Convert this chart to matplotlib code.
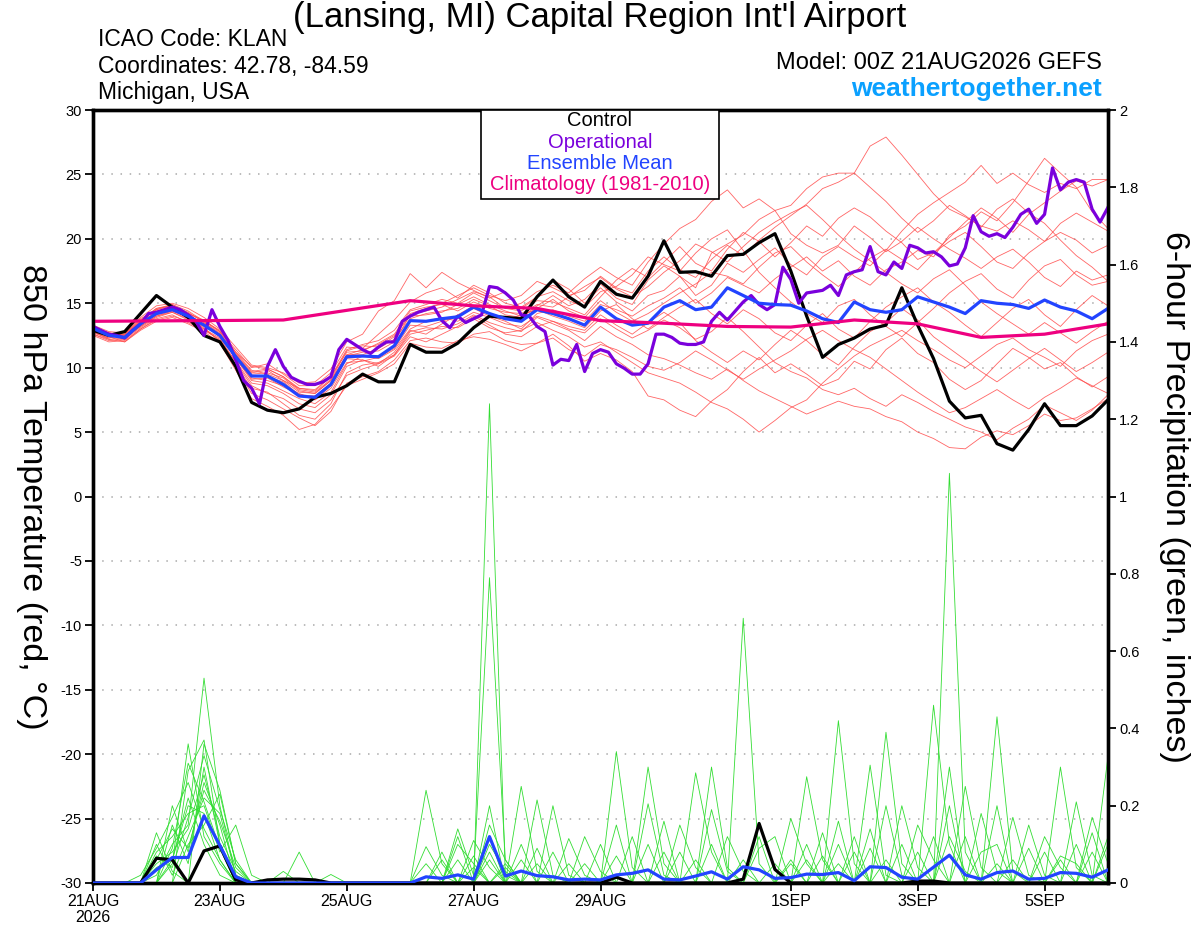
import matplotlib
matplotlib.use("Agg")
import matplotlib.pyplot as plt
from matplotlib.patches import Rectangle
import numpy as np

plt.rcParams['font.family'] = ['Liberation Sans', 'DejaVu Sans']

# GEFS output is 6-hourly, operational run 3-hourly (hours since 00Z 21AUG2026)
hours6 = np.arange(0, 385, 6)
hours3 = np.arange(0, 385, 3)
clim_hours = np.arange(0, 385, 24)

tick_hours = [0, 48, 96, 144, 192, 264, 312, 360]
tick_labels = ['21AUG\n2026', '23AUG', '25AUG', '27AUG', '29AUG', '1SEP', '3SEP', '5SEP']

# 850 hPa temperature (C)
control_t = [12.9, 12.5, 12.8, 14.2, 15.6, 14.7, 13.9, 12.5, 12.0, 10.1,
             7.3, 6.7, 6.5, 6.8, 7.7, 8.0, 8.6, 9.5, 8.9, 8.9,
             11.8, 11.2, 11.2, 11.9, 13.1, 14.0, 13.9, 13.8, 15.5, 16.8,
             15.5, 14.7, 16.7, 15.7, 15.4, 17.1, 19.85, 17.4, 17.45, 17.1,
             18.7, 18.8, 19.7, 20.4, 17.5, 14.0, 10.8, 11.8, 12.3, 13.0,
             13.3, 16.2, 13.3, 10.7, 7.4, 6.1, 6.3, 4.1, 3.6, 5.2,
             7.2, 5.5, 5.5, 6.25, 7.5]

mean_t = [13.05, 12.5, 12.35, 13.4, 14.2, 14.5, 14.0, 13.3, 12.5, 10.85,
          9.35, 9.35, 8.7, 7.8, 7.7, 8.7, 10.85, 10.9, 10.85, 11.7,
          13.65, 13.6, 13.8, 13.95, 14.7, 14.2, 13.8, 13.6, 14.5, 14.2,
          13.8, 13.3, 14.7, 13.8, 13.3, 13.45, 14.7, 15.2, 14.5, 14.7,
          16.2, 15.6, 15.0, 14.9, 14.85, 14.4, 13.8, 13.5, 15.1, 14.5,
          14.3, 14.5, 15.5, 15.1, 14.7, 14.2, 15.2, 15.0, 14.9, 14.6,
          15.25, 14.7, 14.4, 13.8, 14.6]

oper_t = [13.2, 12.9, 12.6, 12.5, 12.3, 12.9, 13.4, 14.2, 14.3, 14.5,
          14.7, 14.5, 14.1, 13.6, 12.5, 14.5, 13.2, 12.15, 10.6, 9.0,
          8.4, 7.2, 10.1, 11.4, 10.1, 9.25, 8.95, 8.7, 8.7, 8.9,
          9.3, 11.4, 12.2, 11.8, 11.4, 11.1, 11.6, 12.0, 12.0, 13.6,
          14.0, 14.3, 14.5, 14.7, 13.65, 13.1, 14.0, 13.5, 13.8, 14.1,
          16.3, 16.2, 15.8, 15.25, 14.1, 14.0, 13.2, 12.8, 10.2, 10.65,
          10.55, 11.8, 9.7, 11.1, 11.4, 11.2, 10.3, 9.95, 9.5, 9.5,
          10.3, 12.6, 12.6, 12.35, 11.9, 11.8, 11.8, 12.0, 13.6, 14.3,
          13.7, 14.4, 15.1, 15.6, 14.9, 14.5, 14.9, 17.8, 16.85, 15.0,
          15.8, 15.9, 16.0, 16.4, 15.6, 17.2, 17.45, 17.6, 19.4, 17.45,
          17.2, 18.2, 17.7, 19.5, 19.3, 18.9, 19.0, 18.6, 17.9, 18.05,
          19.3, 21.8, 20.55, 20.2, 20.4, 20.1, 20.9, 21.9, 22.3, 21.2,
          21.9, 25.5, 23.8, 24.4, 24.6, 24.4, 22.3, 21.3, 22.45]

clim_t = [13.6, 13.63, 13.66, 13.7, 14.45, 15.2, 14.8, 14.6, 13.65, 13.45,
          13.2, 13.15, 13.7, 13.4, 12.35, 12.6, 13.4]

temp_members = [
    [12.8, 12.3, 12.6, 13.6, 14.6, 14.8, 14.2, 13.6, 12.9, 11.2, 9.8, 9.5, 9.0, 8.4, 8.2, 9.3, 11.4, 11.8, 12.1, 12.9,
     14.5, 14.9, 15.3, 15.0, 15.8, 15.2, 14.6, 15.0, 15.9, 16.4, 15.8, 16.9, 17.8, 17.0, 16.4, 18.2, 19.6, 20.8, 21.5, 22.9,
     23.8, 22.4, 23.1, 22.2, 22.6, 23.9, 24.8, 25.1, 25.1, 27.2, 27.9, 26.5, 25.0, 23.5, 22.3, 21.7, 21.0, 20.6, 21.4, 20.7,
     19.8, 20.5, 19.9, 18.9, 19.5],
    [12.6, 12.1, 12.2, 13.1, 13.9, 14.3, 13.8, 13.1, 12.0, 10.2, 8.4, 8.1, 7.2, 6.3, 6.0, 7.2, 9.6, 10.2, 10.4, 11.0,
     12.8, 13.1, 13.0, 13.4, 14.1, 13.5, 13.1, 12.8, 13.9, 13.4, 12.9, 12.1, 13.2, 12.4, 11.8, 11.0, 10.7, 10.2, 9.6, 9.1,
     9.9, 9.0, 8.2, 7.6, 7.0, 6.4, 6.9, 7.4, 7.0, 6.8, 6.2, 5.8, 5.0, 4.5, 3.8, 3.7, 4.6, 5.1, 4.8, 5.5,
     6.4, 5.9, 6.1, 6.8, 7.6],
    [13.3, 12.8, 12.7, 13.9, 14.8, 15.0, 14.6, 13.9, 13.0, 11.6, 10.2, 10.0, 9.6, 8.8, 8.9, 9.9, 12.0, 12.6, 14.4, 15.2,
     17.3, 16.2, 17.4, 16.6, 16.0, 15.4, 15.9, 14.6, 15.4, 16.8, 16.1, 15.0, 16.2, 15.1, 14.4, 15.6, 16.0, 17.1, 16.2, 18.9,
     19.6, 20.3, 21.5, 22.2, 20.4, 19.5, 18.9, 19.5, 21.0, 20.1, 19.0, 19.8, 20.9, 20.0, 19.2, 18.5, 17.7, 18.6, 19.2, 18.2,
     17.0, 16.3, 17.5, 16.8, 17.2],
    [12.9, 12.4, 12.0, 13.0, 13.8, 14.1, 13.5, 12.9, 12.2, 10.0, 8.0, 7.5, 6.8, 6.1, 5.5, 6.6, 8.8, 9.3, 9.7, 10.6,
     12.1, 12.3, 12.0, 11.9, 12.6, 12.8, 12.1, 11.8, 11.9, 12.6, 11.7, 10.5, 11.1, 10.6, 9.7, 7.8, 7.5, 6.7, 6.2, 7.4,
     8.3, 9.7, 10.8, 9.6, 10.3, 9.5, 8.6, 9.1, 10.5, 9.9, 11.4, 12.3, 11.1, 10.4, 9.1, 8.3, 9.0, 10.3, 11.5, 10.8,
     9.9, 10.4, 9.3, 8.5, 9.3],
    [13.0, 12.6, 12.4, 13.5, 14.4, 14.7, 14.0, 13.5, 12.6, 11.0, 9.6, 9.8, 9.0, 8.1, 8.0, 9.0, 11.0, 11.0, 11.5, 12.2,
     13.8, 14.2, 14.4, 14.6, 15.3, 14.8, 14.1, 13.9, 14.8, 15.6, 14.8, 15.3, 16.5, 15.4, 14.9, 16.8, 17.9, 17.1, 15.6, 16.4,
     18.1, 17.4, 18.4, 19.3, 18.0, 17.2, 18.6, 19.4, 18.6, 17.9, 19.1, 20.6, 21.9, 22.8, 23.6, 24.4, 25.7, 24.3, 25.1, 24.2,
     23.6, 24.3, 23.9, 24.6, 24.6],
    [12.7, 12.3, 12.5, 13.3, 14.1, 14.4, 13.9, 13.4, 12.4, 10.8, 9.1, 9.2, 8.5, 7.9, 7.5, 8.4, 10.4, 10.5, 10.8, 11.5,
     13.3, 13.2, 13.6, 14.0, 14.6, 14.0, 13.6, 13.0, 14.2, 14.5, 14.0, 13.6, 14.9, 14.5, 14.0, 14.8, 15.4, 16.2, 15.0, 15.8,
     17.0, 16.4, 15.8, 16.9, 17.8, 18.6, 17.5, 18.3, 17.1, 16.4, 17.6, 18.2, 19.1, 18.6, 20.3, 21.0, 22.1, 21.4, 22.8, 24.5,
     26.25, 25.1, 24.0, 22.1, 20.8],
    [13.1, 12.6, 12.3, 13.2, 14.0, 14.4, 13.9, 13.0, 12.1, 10.5, 8.8, 8.6, 8.0, 7.2, 6.9, 7.9, 10.1, 10.6, 10.1, 11.0,
     12.6, 12.9, 13.2, 13.1, 13.8, 13.1, 12.7, 12.9, 13.5, 12.9, 12.4, 11.6, 12.0, 11.2, 10.4, 9.6, 9.2, 8.8, 8.1, 7.3,
     6.8, 6.0, 5.0, 5.9, 6.9, 7.5, 8.8, 9.9, 10.9, 11.7, 12.3, 12.9, 12.1, 11.4, 10.6, 10.0, 10.9, 11.8, 12.3, 11.4,
     10.8, 10.1, 11.3, 12.1, 12.6],
    [13.2, 12.7, 12.6, 13.8, 14.5, 14.9, 14.4, 13.6, 12.8, 11.4, 10.0, 10.3, 9.5, 8.6, 8.6, 9.6, 11.6, 11.5, 12.6, 13.7,
     15.1, 15.8, 16.2, 15.4, 16.4, 15.8, 15.0, 14.7, 15.5, 15.9, 15.2, 14.7, 15.9, 16.3, 17.2, 18.6, 18.0, 17.5, 18.9, 20.0,
     20.7, 19.1, 17.4, 16.2, 15.1, 14.2, 13.5, 14.8, 15.3, 14.1, 13.2, 12.4, 13.5, 14.6, 15.8, 16.7, 17.3, 16.1, 15.4, 16.8,
     17.9, 18.4, 17.2, 16.4, 16.7],
    [12.5, 12.0, 12.1, 13.0, 13.7, 14.0, 13.6, 13.0, 12.3, 10.4, 8.6, 8.0, 7.6, 6.8, 6.5, 7.5, 9.4, 9.9, 10.3, 10.9,
     12.4, 12.0, 12.6, 13.2, 14.0, 13.3, 12.6, 12.4, 13.2, 13.6, 13.0, 12.7, 13.8, 13.0, 12.3, 12.9, 13.7, 13.1, 12.2, 12.8,
     13.9, 12.8, 11.6, 10.4, 9.7, 9.2, 8.3, 7.9, 8.4, 7.6, 7.0, 7.9, 7.3, 6.6, 6.0, 5.4, 5.0, 4.4, 5.3, 6.0,
     7.1, 6.5, 5.9, 6.7, 7.9],
    [13.0, 12.5, 12.4, 13.5, 14.3, 14.6, 14.1, 13.3, 12.6, 10.9, 9.4, 9.3, 8.9, 7.9, 7.8, 8.8, 10.9, 11.2, 11.3, 12.0,
     14.1, 14.4, 14.7, 15.3, 15.9, 15.5, 14.6, 14.4, 15.2, 15.1, 14.6, 14.1, 15.5, 16.8, 17.7, 17.0, 18.2, 19.4, 18.1, 17.5,
     19.2, 20.5, 19.8, 18.6, 19.7, 21.0, 20.2, 21.6, 22.4, 21.7, 20.6, 19.7, 18.4, 18.9, 19.8, 20.5, 19.4, 18.2, 17.7, 18.9,
     19.8, 21.2, 22.0, 21.3, 20.6],
    [12.8, 12.2, 12.3, 13.2, 14.0, 14.3, 13.7, 13.2, 12.5, 10.7, 9.0, 8.8, 8.2, 7.6, 7.2, 8.1, 10.3, 10.9, 10.7, 11.4,
     13.0, 13.6, 13.9, 13.6, 14.3, 13.9, 13.4, 13.2, 14.0, 13.6, 13.2, 12.9, 14.1, 13.3, 12.6, 13.5, 14.3, 13.5, 12.1, 11.2,
     10.4, 11.3, 10.6, 11.8, 12.9, 12.1, 11.0, 10.2, 11.6, 12.8, 13.5, 14.6, 13.7, 12.4, 11.5, 10.6, 9.7, 8.9, 9.8, 10.7,
     11.5, 10.6, 9.7, 10.4, 11.2],
    [13.1, 12.7, 12.5, 13.6, 14.5, 14.8, 14.3, 13.5, 12.7, 11.1, 9.7, 9.9, 9.3, 8.4, 8.3, 9.3, 11.2, 11.3, 11.9, 12.6,
     14.4, 14.7, 14.9, 14.4, 15.1, 14.6, 14.3, 14.2, 14.9, 14.7, 15.5, 16.3, 17.0, 16.1, 15.5, 16.3, 17.4, 18.3, 19.6, 19.0,
     18.2, 19.4, 20.5, 21.3, 22.0, 22.6, 21.5, 20.3, 19.2, 18.3, 17.4, 16.5, 15.8, 16.9, 17.6, 16.4, 15.1, 14.2, 13.4, 12.6,
     13.5, 12.7, 11.9, 12.8, 13.6],
    [12.6, 12.2, 12.0, 12.9, 13.6, 13.9, 13.4, 12.8, 11.9, 9.8, 7.6, 7.0, 6.3, 5.2, 5.6, 6.9, 8.6, 9.1, 9.6, 10.3,
     11.9, 11.6, 11.5, 12.1, 12.4, 12.2, 11.8, 11.3, 11.9, 12.3, 11.4, 10.9, 11.8, 11.4, 10.8, 10.1, 9.8, 10.4, 11.3, 10.6,
     9.8, 9.1, 9.9, 10.6, 11.3, 12.2, 12.9, 12.1, 11.4, 10.8, 9.9, 9.0, 8.1, 7.3, 6.5, 6.9, 7.6, 8.3, 7.5, 6.8,
     7.7, 8.4, 9.2, 8.6, 8.0],
    [12.9, 12.5, 12.6, 13.7, 14.6, 14.9, 14.2, 13.7, 12.8, 11.2, 10.1, 9.9, 9.3, 8.3, 8.1, 9.1, 11.3, 11.7, 11.6, 12.4,
     14.2, 14.6, 15.0, 15.6, 16.2, 15.6, 15.2, 15.6, 16.7, 16.2, 15.6, 16.0, 17.1, 16.2, 15.8, 17.5, 18.6, 17.6, 17.0, 18.4,
     19.5, 18.7, 19.9, 20.9, 21.8, 22.7, 23.9, 24.4, 25.1, 24.0, 22.9, 21.6, 20.5, 21.4, 22.6, 21.8, 20.9, 22.3, 23.1, 22.0,
     21.2, 19.9, 18.7, 17.8, 16.7],
    [13.2, 12.6, 12.2, 13.3, 14.2, 14.6, 14.0, 13.4, 12.4, 10.7, 9.2, 9.0, 8.6, 8.0, 7.5, 8.6, 10.7, 10.6, 10.3, 11.2,
     12.9, 12.6, 13.4, 14.1, 14.8, 14.2, 13.7, 14.1, 14.5, 14.0, 13.6, 13.1, 14.4, 14.9, 13.8, 13.0, 13.9, 14.7, 15.3, 14.2,
     13.4, 14.5, 13.8, 12.7, 12.1, 13.3, 14.2, 13.0, 12.3, 13.6, 14.7, 15.5, 16.2, 15.1, 14.3, 13.3, 12.4, 13.5, 14.6, 15.3,
     14.1, 13.2, 14.5, 15.6, 14.8],
    [13.0, 12.4, 12.5, 13.4, 14.3, 14.5, 14.0, 13.3, 12.5, 11.0, 9.5, 9.6, 9.2, 8.2, 8.0, 9.0, 11.0, 11.4, 11.8, 12.5,
     14.0, 14.1, 14.3, 14.9, 15.5, 14.9, 14.4, 14.0, 14.6, 15.3, 14.4, 13.9, 15.2, 14.3, 13.6, 14.2, 15.0, 15.8, 16.5, 17.4,
     17.1, 16.5, 17.8, 18.9, 19.4, 18.2, 17.2, 16.3, 17.4, 18.5, 19.2, 18.4, 17.6, 18.9, 20.1, 21.3, 22.4, 21.6, 20.5, 21.9,
     22.8, 23.7, 24.5, 24.1, 24.6],
]

# 6-hour precipitation (inches)
control_p = [0, 0, 0, 0, 0.064, 0.06, 0, 0.083, 0.096, 0.008,
             0, 0.008, 0.01, 0.01, 0.008, 0, 0, 0, 0, 0,
             0, 0, 0, 0, 0, 0, 0, 0, 0, 0,
             0, 0, 0, 0.015, 0, 0, 0, 0, 0, 0,
             0, 0.01, 0.154, 0.035, 0, 0, 0, 0, 0, 0,
             0, 0, 0.005, 0.005, 0, 0, 0, 0, 0, 0,
             0, 0, 0, 0, 0]

mean_p = [0, 0, 0, 0, 0.034, 0.066, 0.066, 0.174, 0.097, 0.016,
          0, 0, 0, 0, 0, 0, 0, 0, 0, 0,
          0, 0.016, 0.012, 0.021, 0.01, 0.12, 0.018, 0.031, 0.019, 0.016,
          0.008, 0.01, 0.008, 0.021, 0.025, 0.034, 0.01, 0.008, 0.018, 0.029,
          0.01, 0.042, 0.034, 0.012, 0.014, 0.023, 0.022, 0.027, 0.006, 0.042,
          0.04, 0.015, 0.01, 0.041, 0.072, 0.021, 0.01, 0.027, 0.031, 0.01,
          0.012, 0.027, 0.025, 0.015, 0.034]

# members: {6h step index: amount}, steps not listed are dry
precip_members = [
    {4: .02, 5: .10, 6: .15, 7: .53, 8: .20, 9: .02, 21: .24, 22: .05, 25: .06, 27: .25, 28: .03,
     41: .685, 42: .05, 54: .12, 55: .03, 61: .06},
    {5: .05, 6: .36, 7: .12, 8: .05, 25: 1.24, 26: .02, 33: .34, 34: .04, 47: .05, 50: .20, 51: .02,
     58: .17, 59: .02},
    {6: .29, 7: .37, 8: .10, 13: .08, 23: .14, 24: .02, 25: .79, 26: .06, 35: .30, 36: .05, 45: .06,
     54: 1.06, 55: .08, 64: .12},
    {4: .13, 5: .03, 7: .36, 8: .24, 9: .05, 22: .08, 25: .12, 29: .20, 30: .02, 39: .30, 40: .04,
     47: .42, 48: .05, 57: .43, 58: .03},
    {5: .20, 6: .08, 7: .26, 8: .15, 23: .10, 24: .05, 28: .215, 29: .02, 38: .285, 39: .08,
     49: .305, 50: .02, 62: .21, 63: .02},
    {4: .08, 5: .12, 6: .18, 7: .20, 8: .08, 9: .15, 10: .02, 21: .094, 22: .02, 26: .05, 31: .12,
     32: .03, 44: .167, 45: .05, 53: .46, 54: .10, 61: .30, 62: .04},
    {4: .04, 5: .06, 6: .22, 7: .10, 8: .02, 15: .022, 24: .11, 25: .04, 35: .205, 36: .02,
     45: .275, 46: .06, 56: .08, 57: .10, 64: .327},
    {5: .15, 6: .05, 7: .30, 8: .10, 23: .06, 27: .10, 30: .115, 31: .02, 42: .09, 43: .12,
     50: .39, 51: .05, 60: .08, 63: .17, 64: .05},
    {4: .10, 5: .02, 6: .12, 7: .22, 8: .18, 9: .02, 25: .15, 26: .06, 37: .08, 39: .19, 40: .03,
     46: .07, 48: .12, 55: .25, 56: .04, 59: .09},
    {6: .10, 7: .15, 8: .23, 9: .05, 22: .06, 25: .20, 27: .06, 33: .07, 41: .06, 44: .05,
     52: .15, 53: .06, 57: .20, 62: .10},
    {3: .02, 4: .09, 5: .17, 6: .26, 7: .14, 8: .06, 24: .07, 28: .09, 32: .10, 36: .08, 43: .05,
     47: .16, 49: .09, 54: .30, 60: .12, 61: .04},
    {4: .05, 5: .08, 6: .14, 7: .28, 8: .12, 9: .03, 25: .10, 26: .03, 34: .12, 38: .06, 45: .10,
     51: .20, 52: .04, 58: .06, 63: .08},
    {5: .06, 6: .20, 7: .18, 8: .06, 12: .03, 21: .05, 29: .08, 35: .10, 40: .12, 41: .03,
     48: .08, 53: .12, 56: .18, 57: .03, 64: .10},
    {4: .06, 5: .14, 6: .09, 7: .24, 8: .16, 9: .04, 23: .12, 26: .04, 31: .05, 37: .15, 38: .04,
     46: .13, 50: .06, 54: .20, 59: .15, 60: .02},
    {5: .09, 6: .31, 7: .21, 8: .09, 25: .08, 28: .05, 33: .15, 39: .10, 42: .12, 49: .14,
     52: .08, 55: .12, 61: .07, 62: .05},
    {4: .07, 5: .04, 6: .17, 7: .33, 8: .19, 9: .06, 24: .04, 30: .05, 36: .16, 44: .06, 47: .10,
     51: .10, 57: .05, 63: .13},
]

c_control = 'black'
c_oper = '#7a00dc'
c_mean = '#2244ff'
c_clim = '#ee0080'
c_member_t = '#ff4a4a'
c_member_p = '#33dd33'

fig = plt.figure(figsize=(12, 9.27), dpi=100)
ax = fig.add_axes([93 / 1200, 1 - 883 / 927, 1015 / 1200, 773 / 927])
ax2 = ax.twinx()

for m in temp_members:
    ax.plot(hours6, m, color=c_member_t, lw=0.6, alpha=0.85, zorder=2)
ax.plot(hours6, control_t, color=c_control, lw=2.3, zorder=4)
ax.plot(hours3, oper_t, color=c_oper, lw=2.3, zorder=5)
ax.plot(hours6, mean_t, color=c_mean, lw=2.3, zorder=6)
ax.plot(clim_hours, clim_t, color=c_clim, lw=2.3, zorder=7)

for m in precip_members:
    p = np.zeros(len(hours6))
    for k, v in m.items():
        p[k] = v
    ax2.plot(hours6, p, color=c_member_p, lw=0.6, zorder=2)
ax2.plot(hours6, control_p, color=c_control, lw=2.3, zorder=4)
ax2.plot(hours6, mean_p, color=c_mean, lw=2.3, zorder=5)

ax.set_xlim(0, 384)
ax.set_ylim(-30, 30)
ax2.set_ylim(0, 2)

ax.set_yticks(np.arange(-30, 31, 5))
ax.set_yticklabels([str(v) for v in range(-30, 31, 5)], fontsize=10.5)
ax2.set_yticks(np.arange(0, 2.01, 0.2))
ax2.set_yticklabels(['0', '0.2', '0.4', '0.6', '0.8', '1', '1.2', '1.4', '1.6', '1.8', '2'], fontsize=10.5)
ax.set_xticks(tick_hours)
ax.set_xticklabels(tick_labels, fontsize=11.5, linespacing=1.1)

for v in range(-25, 30, 5):
    ax.axhline(v, color='#aaaaaa', lw=1.1, linestyle=(0, (1, 5)), zorder=1)

for a in (ax, ax2):
    for s in a.spines.values():
        s.set_linewidth(2.4)
    a.tick_params(direction='out', length=6, width=1.3, pad=2)

ax.set_ylabel('850 hPa Temperature (red, °C)', fontsize=24.5, rotation=-90, va='center')
ax.yaxis.set_label_coords(-0.061, 0.5)
ax2.set_ylabel('6-hour Precipitation (green, inches)', fontsize=24.5, rotation=-90, va='center')
ax2.yaxis.set_label_coords(1.066, 0.5)

# header texts
fig.text(0.5, 1 - 18 / 927, "(Lansing, MI) Capital Region Int'l Airport", ha='center', va='center', fontsize=25)
fig.text(98 / 1200, 1 - 40 / 927, 'ICAO Code: KLAN', ha='left', va='center', fontsize=16.5)
fig.text(98 / 1200, 1 - 66 / 927, 'Coordinates: 42.78, -84.59', ha='left', va='center', fontsize=16.5)
fig.text(98 / 1200, 1 - 93 / 927, 'Michigan, USA', ha='left', va='center', fontsize=16.5)
fig.text(1102 / 1200, 1 - 63 / 927, 'Model: 00Z 21AUG2026 GEFS', ha='right', va='center', fontsize=17)
fig.text(1102 / 1200, 1 - 89 / 927, 'weathertogether.net', ha='right', va='center', fontsize=19,
         fontweight='bold', color='#0aa0ff')

# legend box
fig.patches.append(Rectangle((481 / 1200, 1 - 199 / 927), 238 / 1200, 89 / 927, transform=fig.transFigure,
                             fill=True, facecolor='white', edgecolor='black', lw=1.2, zorder=10))
legend_items = [('Control', c_control), ('Operational', c_oper),
                ('Ensemble Mean', c_mean), ('Climatology (1981-2010)', c_clim)]
for n, (label, col) in enumerate(legend_items):
    fig.text(600 / 1200, 1 - (121 + 21.3 * n) / 927, label, ha='center', va='center', fontsize=14.5,
             color=col, zorder=11)

fig.savefig('out.png', dpi=100)
